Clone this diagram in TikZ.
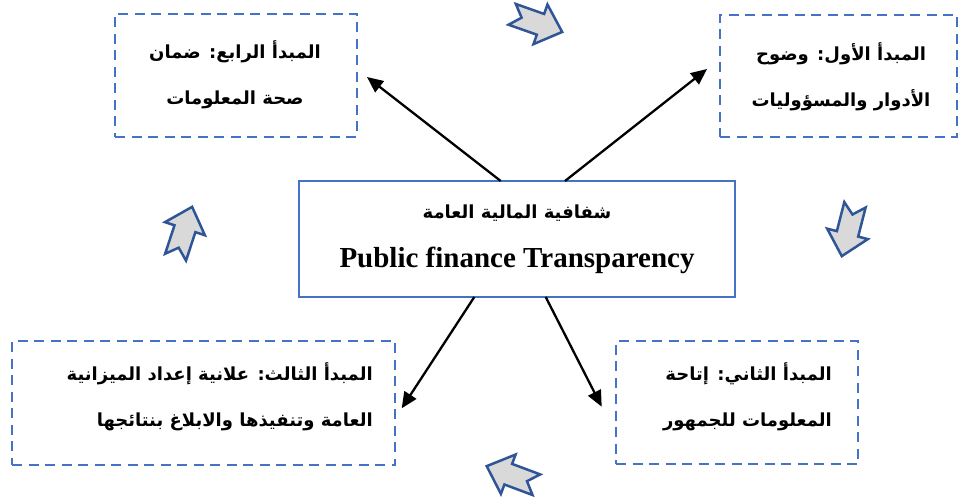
\documentclass[tikz,border=0pt]{standalone}
\usepackage{fontspec}
\setmainfont{Liberation Serif}
\newfontfamily\arabicfont[Script=Arabic]{DejaVu Sans}
\TeXXeTstate=1
\usetikzlibrary{arrows.meta}
\definecolor{boxblue}{HTML}{4472C4}
\definecolor{cycleblue}{HTML}{2F5597}
\definecolor{cyclefill}{HTML}{D9D9D9}

\tikzset{
  principle/.style={draw=boxblue, line width=2.5pt, dash pattern=on 10pt off 6.5pt,
    inner sep=0pt, outer sep=0pt},
  hubbox/.style={draw=boxblue, line width=2.5pt, inner sep=0pt, outer sep=0pt,
    minimum width=436pt, minimum height=116pt},
  arabtext/.style={font=\arabicfont\bfseries\fontsize{18}{46}\selectfont,
    inner sep=0pt},
  link/.style={line width=2.3pt, -{Triangle[length=16pt,width=14pt]}},
  cyclearrow/.pic={
    \draw[cycleblue, fill=cyclefill, line width=2.5pt, line join=miter]
      (-26,-11) -- (4,-11) -- (4,-21) -- (27,0) -- (4,21) -- (4,11)
      -- (-26,11) -- (-16,0) -- cycle;
  }
}

\begin{document}
\begin{tikzpicture}[x=1pt,y=-1pt]
\useasboundingbox (0,0) rectangle (960,502);

% principle frames
\node[principle, minimum width=242pt, minimum height=123pt] (p4) at (236,75.5) {};
\node[principle, minimum width=237pt, minimum height=122pt] (p1) at (838.5,76) {};
\node[principle, minimum width=383pt, minimum height=124pt] (p3) at (203.5,403) {};
\node[principle, minimum width=242pt, minimum height=123pt] (p2) at (737,402.5) {};

% principle texts
\node[arabtext, align=center] (t4) at (235,75)
  {\beginR المبدأ الرابع: ضمان\endR\\\beginR صحة المعلومات\endR};
\node[arabtext, align=center] (t1) at (841,77)
  {\beginR المبدأ الأول: وضوح\endR\\\beginR الأدوار والمسؤوليات\endR};
\node[arabtext, align=right, anchor=east] (t3) at (373,396.5)
  {\beginR المبدأ الثالث: علانية إعداد الميزانية\endR\\\beginR العامة وتنفيذها والابلاغ بنتائجها\endR};
\node[arabtext, align=right, anchor=east] (t2) at (832,396.5)
  {\beginR المبدأ الثاني: إتاحة\endR\\\beginR المعلومات للجمهور\endR};

% central box
\node[hubbox] (hub) at (517,239) {};
\node[arabtext] (hubar) at (517,213) {\beginR شفافية المالية العامة\endR};
\node[font=\bfseries\fontsize{29}{34}\selectfont, inner sep=0pt, anchor=base]
  (huben) at (517,268) {Public finance Transparency};

% connector ends
\coordinate (e4) at (367,77);
\coordinate (e1) at (707,69);
\coordinate (e3) at (401.7,408.3);
\coordinate (e2) at (601.7,406.7);

\draw[link] ([xshift=-16.3pt]hub.north) -- (e4);
\draw[link] ([xshift=48pt]hub.north) -- (e1);
\draw[link] ([xshift=-42.7pt]hub.south) -- (e3);
\draw[link] ([xshift=28.7pt]hub.south) -- (e2);

% clockwise cycle arrows
\pic[rotate=-19.4] at (536.7,23) {cyclearrow};
\pic[rotate=-104.4] at (848.5,230) {cyclearrow};
\pic[rotate=159.5] at (512,475.6) {cyclearrow};
\pic[rotate=71.8] at (183.7,232.5) {cyclearrow};
\end{tikzpicture}
\end{document}
